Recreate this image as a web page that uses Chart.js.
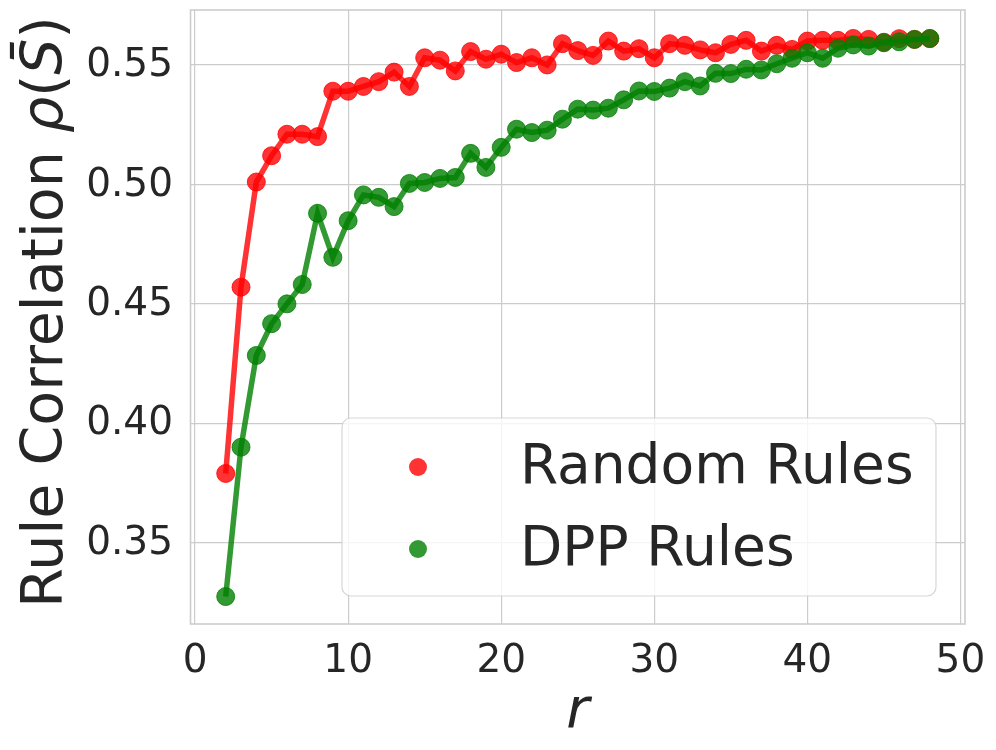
<!DOCTYPE html>
<html>
<head>
<meta charset="utf-8">
<script src="https://cdn.jsdelivr.net/npm/chart.js@4/dist/chart.umd.min.js"></script>
<style>
    html, body { margin: 0; padding: 0; background: #ffffff; }
    #wrap { width: 996px; height: 750px; }
</style>
</head>
<body>
<div id="wrap"><canvas id="chart" width="996" height="750"></canvas></div>
<script>
// r 取值
const rValues = [2, 3, 4, 5, 6, 7, 8, 9, 10, 11, 12, 13, 14, 15, 16, 17, 18, 19, 20, 21, 22, 23, 24, 25,
    26, 27, 28, 29, 30, 31, 32, 33, 34, 35, 36, 37, 38, 39, 40, 41, 42, 43, 44, 45, 46, 47, 48];

// 随机规则
const randomRules = [0.379, 0.457, 0.501, 0.512, 0.521, 0.521, 0.520, 0.539, 0.539, 0.541, 0.543, 0.547,
    0.541, 0.553, 0.552, 0.5475, 0.5556, 0.5524, 0.5545, 0.551, 0.553, 0.550, 0.5589, 0.556,
    0.554, 0.560, 0.5558, 0.5568, 0.553, 0.5589, 0.5582, 0.5563, 0.5551, 0.5586, 0.5603, 0.5558,
    0.5582, 0.5565, 0.560, 0.5603, 0.5603, 0.5611, 0.5607, 0.5595, 0.561, 0.5607, 0.561];

// DPP 规则
const dppRules = [0.3275, 0.390, 0.4284, 0.4417, 0.450, 0.4581, 0.4879, 0.4695, 0.4848, 0.4956, 0.4946, 0.4907,
    0.5004, 0.5008, 0.5025, 0.5029, 0.5130, 0.5071, 0.5155, 0.5231, 0.5217, 0.5227, 0.5273, 0.5315,
    0.5311, 0.5319, 0.5354, 0.5391, 0.5389, 0.5403, 0.543, 0.5412, 0.5465, 0.5464, 0.5482, 0.5479,
    0.5505, 0.5528, 0.5551, 0.5528, 0.557, 0.5584, 0.5579, 0.5593, 0.5597, 0.5607, 0.5611];

const seriesNames = ['Random Rules', 'DPP Rules'];
const xTicks = [0, 10, 20, 30, 40, 50];
const yTicks = [0.35, 0.40, 0.45, 0.50, 0.55];

const RED = 'rgba(255, 0, 0, 0.8)';
const GREEN = 'rgba(0, 128, 0, 0.8)';
const TEXT = '#262626';
const GRID = '#cccccc';
const FONT = '"DejaVu Sans", sans-serif';

function toPoints(values) {
    return values.map((v, i) => ({ x: rValues[i], y: v }));
}

// 自绘刻度、标题、图例和边框
const decorPlugin = {
    id: 'decor',
    afterDraw(chart) {
        const ctx = chart.ctx;
        const area = chart.chartArea;
        const xs = chart.scales.x;
        const ys = chart.scales.y;
        ctx.save();

        // 边框
        ctx.strokeStyle = GRID;
        ctx.lineWidth = 1.6;
        ctx.strokeRect(area.left, area.top, area.right - area.left, area.bottom - area.top);

        // 刻度标签
        ctx.fillStyle = TEXT;
        ctx.font = '39px ' + FONT;
        ctx.textAlign = 'center';
        ctx.textBaseline = 'alphabetic';
        xTicks.forEach(v => {
            ctx.fillText(String(v), xs.getPixelForValue(v), 672);
        });
        ctx.textAlign = 'right';
        ctx.textBaseline = 'middle';
        yTicks.forEach(v => {
            ctx.fillText(v.toFixed(2), 173, ys.getPixelForValue(v) + 1);
        });

        // x 轴标题
        ctx.font = 'italic 56px ' + FONT;
        ctx.textAlign = 'center';
        ctx.textBaseline = 'alphabetic';
        ctx.fillText('r', (area.left + area.right) / 2, 727);

        // y 轴标题（旋转）
        const parts = [
            ['Rule Correlation ', ''],
            ['ρ', 'italic '],
            ['(', ''],
            ['S\u0304', 'italic '],
            [')', '']
        ];
        let total = 0;
        parts.forEach(p => {
            ctx.font = p[1] + '57px ' + FONT;
            total += ctx.measureText(p[0]).width;
        });
        ctx.translate(62, 312);
        ctx.rotate(-Math.PI / 2);
        ctx.textAlign = 'left';
        let cx = -total / 2;
        parts.forEach(p => {
            ctx.font = p[1] + '57px ' + FONT;
            ctx.fillText(p[0], cx, 0);
            cx += ctx.measureText(p[0]).width;
        });
        ctx.setTransform(1, 0, 0, 1, 0, 0);

        // 图例
        const box = { x: 342, y: 418, w: 594, h: 178, r: 9 };
        ctx.beginPath();
        ctx.roundRect(box.x, box.y, box.w, box.h, box.r);
        ctx.fillStyle = 'rgba(255, 255, 255, 0.8)';
        ctx.fill();
        ctx.strokeStyle = 'rgba(204, 204, 204, 0.8)';
        ctx.lineWidth = 1.2;
        ctx.stroke();

        const rows = [467, 549];
        chart.data.datasets.forEach((ds, i) => {
            ctx.beginPath();
            ctx.arc(418, rows[i], 9, 0, Math.PI * 2);
            ctx.fillStyle = ds.backgroundColor;
            ctx.fill();
            ctx.fillStyle = TEXT;
            ctx.font = '55px ' + FONT;
            ctx.textAlign = 'left';
            ctx.textBaseline = 'alphabetic';
            ctx.fillText(ds.label, 520, rows[i] + 16);
        });

        ctx.restore();
    }
};

const ctx = document.getElementById('chart').getContext('2d');
new Chart(ctx, {
    type: 'line',
    data: {
        datasets: [
            {
                label: seriesNames[0],
                data: toPoints(randomRules),
                borderColor: RED,
                backgroundColor: RED,
                pointBackgroundColor: RED,
                pointBorderColor: RED,
                borderWidth: 5.5,
                pointRadius: 9,
                pointBorderWidth: 1,
                tension: 0,
                order: 1
            },
            {
                label: seriesNames[1],
                data: toPoints(dppRules),
                borderColor: GREEN,
                backgroundColor: GREEN,
                pointBackgroundColor: GREEN,
                pointBorderColor: GREEN,
                borderWidth: 5.5,
                pointRadius: 9,
                pointBorderWidth: 1,
                tension: 0,
                order: 0
            }
        ]
    },
    options: {
        responsive: false,
        animation: false,
        layout: {
            padding: { left: 190.5, right: 31, top: 9, bottom: 126 }
        },
        plugins: {
            legend: { display: false },
            tooltip: { enabled: false }
        },
        scales: {
            x: {
                type: 'linear',
                min: -0.3,
                max: 50.3,
                afterBuildTicks: s => { s.ticks = xTicks.map(v => ({ value: v })); },
                ticks: { display: false },
                grid: { color: GRID, lineWidth: 1.2, drawTicks: false },
                border: { display: false }
            },
            y: {
                type: 'linear',
                min: 0.316,
                max: 0.573,
                afterBuildTicks: s => { s.ticks = yTicks.map(v => ({ value: v })); },
                ticks: { display: false },
                grid: { color: GRID, lineWidth: 1.2, drawTicks: false },
                border: { display: false }
            }
        }
    },
    plugins: [decorPlugin]
});
</script>
</body>
</html>
